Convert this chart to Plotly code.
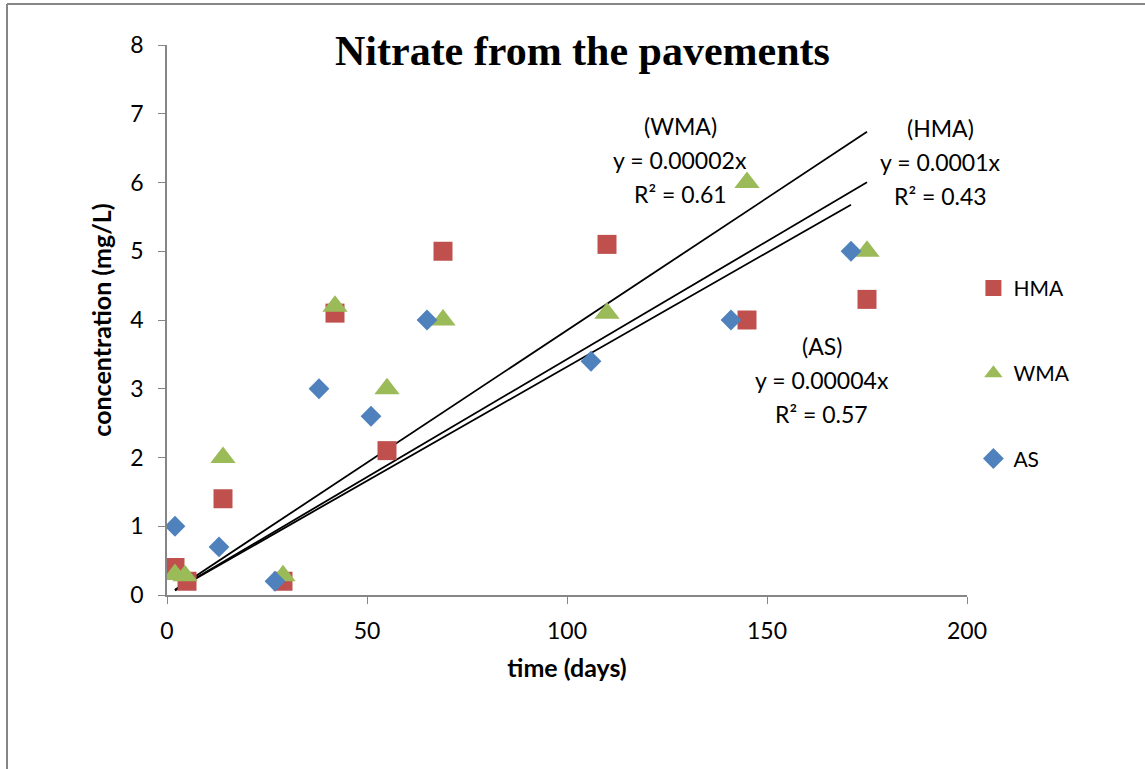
import plotly.graph_objects as go

# ---- data ----
hma_x = [2, 5, 14, 29, 42, 55, 69, 110, 145, 175]
hma_y = [0.4, 0.2, 1.4, 0.2, 4.1, 2.1, 5.0, 5.1, 4.0, 4.3]

wma_x = [2, 4.5, 14, 29, 42, 55, 69, 110, 145, 175]
wma_y = [0.3, 0.28, 2.0, 0.28, 4.2, 3.0, 4.0, 4.1, 6.0, 5.0]

as_x = [2, 13, 27, 38, 51, 65, 106, 141, 171]
as_y = [1.0, 0.7, 0.2, 3.0, 2.6, 4.0, 3.4, 4.0, 5.0]

trend_names = ["WMA", "HMA", "AS"]
trend_slopes = [0.0385, 0.0343, 0.0332]
trend_x0 = [2, 2, 2]
trend_x1 = [175, 175, 171]

trend_labels = [
    ["(WMA)", "y = 0.00002x", "R² = 0.61"],
    ["(HMA)", "y = 0.0001x", "R² = 0.43"],
    ["(AS)", "y = 0.00004x", "R² = 0.57"],
]
label_pos = [(128.3, 6.33), (193.3, 6.3), (163.7, 3.13)]

FONT = "Lato"

fig = go.Figure()

for i, name in enumerate(trend_names):
    xs = [trend_x0[i], trend_x1[i]]
    ys = [trend_slopes[i] * x for x in xs]
    fig.add_trace(go.Scatter(x=xs, y=ys, mode="lines",
                             line=dict(color="black", width=1.8),
                             showlegend=False, hoverinfo="skip"))

fig.add_trace(go.Scatter(x=hma_x, y=hma_y, mode="markers", name="HMA",
                         legendgroup="a",
                         marker=dict(symbol="square", size=19, color="#C0504D")))
fig.add_trace(go.Scatter(x=wma_x, y=wma_y, mode="markers", name="WMA",
                         legendgroup="b",
                         marker=dict(symbol="triangle-up", size=22, color="#9BBB59")))
fig.add_trace(go.Scatter(x=as_x, y=as_y, mode="markers", name="AS",
                         legendgroup="c",
                         marker=dict(symbol="diamond", size=16, color="#4F81BD")))

annotations = []
for (cx, cy), lines in zip(label_pos, trend_labels):
    for k, t in enumerate(lines):
        annotations.append(dict(x=cx, y=cy + (1 - k) * 0.49, xref="x", yref="y",
                                text=t, showarrow=False,
                                font=dict(family=FONT, size=23, color="black")))

annotations.append(dict(x=0.519, y=0.989, xref="paper", yref="paper",
                        text="<b>Nitrate from the pavements</b>", showarrow=False,
                        yanchor="middle",
                        font=dict(family="Liberation Serif", size=42, color="black")))

fig.update_layout(
    width=1145, height=769,
    margin=dict(l=167, r=178, t=45, b=174),
    paper_bgcolor="white", plot_bgcolor="white",
    font=dict(family=FONT, size=23, color="black"),
    annotations=annotations,
    showlegend=True,
    legend=dict(x=1.008, y=0.595, xanchor="left", yanchor="top",
                tracegroupgap=55, font=dict(family=FONT, size=21),
                bgcolor="rgba(0,0,0,0)"),
    shapes=[
        dict(type="line", xref="paper", yref="paper", x0=-0.2, x1=-0.2,
             y0=1.0745, y1=-0.4, line=dict(color="#868686", width=2)),
        dict(type="line", xref="paper", yref="paper", x0=-0.2, x1=1.3,
             y0=1.0745, y1=1.0745, line=dict(color="#868686", width=2)),
    ],
)

fig.update_xaxes(range=[0, 200], tickvals=[0, 50, 100, 150, 200],
                 showgrid=False, zeroline=False, showline=True,
                 linecolor="#868686", linewidth=1.5,
                 ticks="outside", ticklen=7, tickcolor="#868686",
                 ticklabelstandoff=8,
                 tickfont=dict(family=FONT, size=23),
                 title=dict(text="<b>time (days)</b>", standoff=16,
                            font=dict(family=FONT, size=25)))
fig.update_yaxes(range=[0, 8], tickvals=list(range(9)),
                 showgrid=False, zeroline=False, showline=True,
                 linecolor="#868686", linewidth=1.5,
                 ticks="outside", ticklen=7, tickcolor="#868686",
                 ticklabelstandoff=10,
                 tickfont=dict(family=FONT, size=23),
                 title=dict(text="<b>concentration (mg/L)</b>", standoff=12,
                            font=dict(family=FONT, size=25)))

fig.write_html("out.html")
